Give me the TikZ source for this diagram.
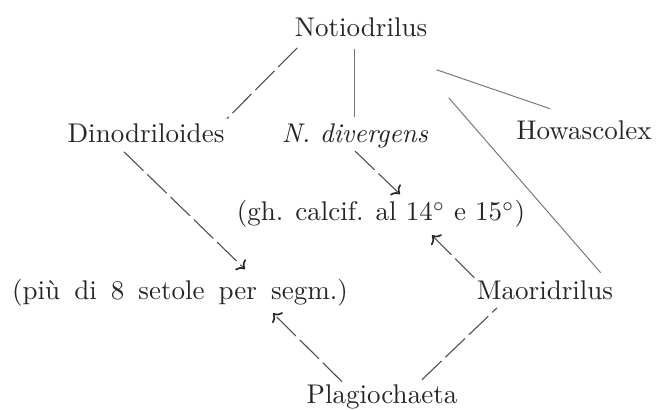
\documentclass[tikz,border=0pt]{standalone}
\usepackage{tikz}
\usetikzlibrary{arrows.meta}

\begin{document}
\begin{tikzpicture}[x=0.37pt,y=-0.37pt,>={Computer Modern Rightarrow[width=5.5pt,length=2.6pt,line width=0.6pt,black!85]},
    taxon/.style={inner sep=0pt,anchor=base,text=black!85},
    link/.style={draw=black!55,line width=0.35pt},
    dashlink/.style={draw=black!70,line width=0.4pt,dash pattern=on 10pt off 2pt}]
    \useasboundingbox (0,0) rectangle (657,410);

    \node[taxon] (noti) at (361,37) {Notiodrilus};
    \node[taxon] (dino) at (146,143) {Dinodriloides};
    \node[taxon] (div) at (355,143) {\textit{N. divergens}};
    \node[taxon] (howa) at (584,140) {Howascolex};
    \node[taxon] (calc) at (381,221) {(gh. calcif. al 14$^{\circ}$ e 15$^{\circ}$)};
    \node[taxon] (piu) at (180,299) {\spaceskip=5.2pt plus 1pt(più di 8 setole per segm.)};
    \node[taxon] (maor) at (545,300) {Maoridrilus};
    \node[taxon] (plag) at (382,403) {Plagiochaeta};

    \draw[dashlink] ([shift={(3,10)}]noti.south west) -- ([shift={(2,-5)}]dino.north east);
    \draw[link] ([shift={(-7,11)}]noti.south) -- ([shift={(-1,-7)}]div.north);
    \draw[link] ([shift={(9,32)}]noti.south east) -- ([shift={(-34,-12)}]howa.north);
    \draw[link] ([shift={(21,60)}]noti.south east) -- ([shift={(-13,-8)}]maor.north east);

    \draw[dashlink,->] ([shift={(0,2)}]div.south) -- ([shift={(19,-6)}]calc.north);
    \draw[dashlink,->] ([shift={(-22,8)}]dino.south) -- ([shift={(65,-9)}]piu.north);
    \draw[dashlink,->] ([shift={(-2,-3)}]maor.north west) -- ([shift={(51,7)}]calc.south);
    \draw[dashlink,->] ([shift={(-40,-2)}]plag.north) -- ([shift={(93,7)}]piu.south);
    \draw[dashlink] ([shift={(40,-4)}]plag.north) -- ([shift={(-48,7)}]maor.south);
\end{tikzpicture}
\end{document}
